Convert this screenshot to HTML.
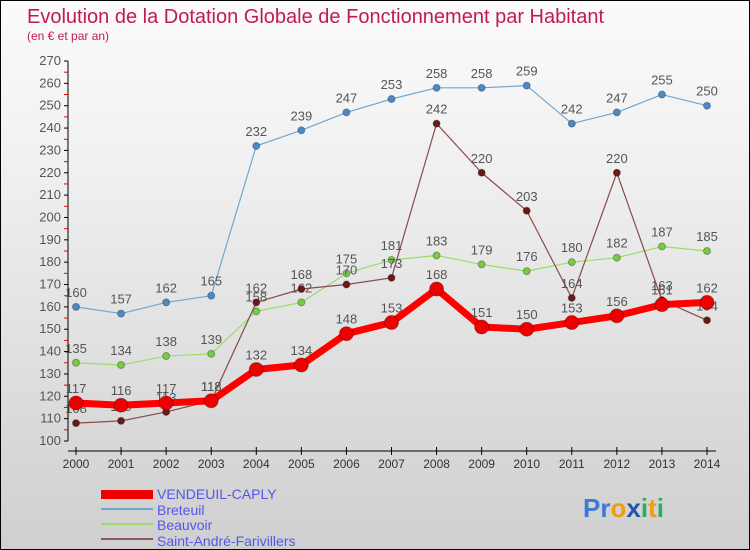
<!DOCTYPE html>
<html><head><meta charset="utf-8"><style>
body{margin:0}
#c{width:748px;height:548px;border:1px solid #000;background:linear-gradient(#fbfbfb,#f0f0f0 30%,#cfcfcf);position:relative;font-family:"Liberation Sans",sans-serif;overflow:hidden}
svg text{font-family:"Liberation Sans",sans-serif}
</style></head><body>
<div id="c">
<svg id="s" width="748" height="548">
<text x="26" y="22" font-size="20" fill="#c2185b">Evolution de la Dotation Globale de Fonctionnement par Habitant</text>
<text x="26" y="39" font-size="12" fill="#c2185b">(en € et par an)</text>
<g id="axes"></g><g id="series"></g>
<g>
<rect x="100" y="489" width="52" height="9" fill="#e00"/>
<text x="156" y="498" font-size="14" fill="#5555ee">VENDEUIL-CAPLY</text>
<line x1="100" x2="152" y1="508" y2="508" stroke="#6fa8d0" stroke-width="2"/>
<text x="156" y="514" font-size="14" fill="#5555ee">Breteuil</text>
<line x1="100" x2="152" y1="523" y2="523" stroke="#99dd66" stroke-width="2"/>
<text x="156" y="529" font-size="14" fill="#5555ee">Beauvoir</text>
<line x1="100" x2="152" y1="538" y2="538" stroke="#8b5a5a" stroke-width="2"/>
<text x="156" y="545" font-size="14" fill="#5555ee">Saint-André-Farivillers</text>
</g>
<text x="582" y="516" font-size="26" font-weight="bold"><tspan fill="#3a7bd5">Pr</tspan><tspan fill="#f39c12">o</tspan><tspan fill="#2255aa">x</tspan><tspan fill="#27ae60">i</tspan><tspan fill="#f39c12">t</tspan><tspan fill="#27ae60">i</tspan></text>
</svg>
</div>
<script>
const years=[2000,2001,2002,2003,2004,2005,2006,2007,2008,2009,2010,2011,2012,2013,2014];
const yTicks=[100,110,120,130,140,150,160,170,180,190,200,210,220,230,240,250,260,270];
const vendeuil=[117,116,117,118,132,134,148,153,168,151,150,153,156,161,162];
const breteuil=[160,157,162,165,232,239,247,253,258,258,259,242,247,255,250];
const beauvoir=[135,134,138,139,158,162,175,181,183,179,176,180,182,187,185];
const saintAndre=[108,109,113,118,162,168,170,173,242,220,203,164,220,163,154];
const NS="http://www.w3.org/2000/svg";
const X=i=>75+i*(631/14);
const Y=v=>440-(v-100)*(380/170);
function mk(tag,attrs,parent){const e=document.createElementNS(NS,tag);for(const k in attrs)e.setAttribute(k,attrs[k]);parent.appendChild(e);return e;}
const ax=document.getElementById('axes'),sg=document.getElementById('series');
let a=mk('line',{x1:67,x2:67,y1:60,y2:440,stroke:'#000'},ax);


a=mk('line',{x1:67,x2:715,y1:450,y2:450,stroke:'#000'},ax);


yTicks.forEach(v=>{
 mk('line',{x1:63,x2:67,y1:Y(v),y2:Y(v),stroke:'#000'},ax);
 if(v<270)mk('line',{x1:63,x2:67,y1:Y(v+5),y2:Y(v+5),stroke:'#e00'},ax);
 const t=mk('text',{x:60,y:Y(v)+4,'font-size':13,'text-anchor':'end',fill:'#555'},ax);
 t.textContent=v;
 
 
});
years.forEach((y,i)=>{
 mk('line',{x1:X(i),x2:X(i),y1:446,y2:454,stroke:'#000'},ax);
 const t=mk('text',{x:X(i),y:467,'font-size':12,'text-anchor':'middle',fill:'#333'},ax);
 t.textContent=y;
 
 
});
function series(data,name,color,w,r,dot){
 const g=mk('g',{},sg);
 
 
 const p=mk('polyline',{points:data.map((v,i)=>X(i)+','+Y(v)).join(' '),fill:'none',stroke:color,'stroke-width':w,'stroke-linejoin':'round'},g);
 
 
 data.forEach((v,i)=>{
  const c=mk('circle',{cx:X(i),cy:Y(v),r:r,fill:dot,stroke:'rgba(0,0,0,0.3)'},g);
  
  
  const t=mk('text',{x:X(i),y:Y(v)-10,'font-size':13,'text-anchor':'middle',fill:'#555'},g);
  t.textContent=v;
  
  
 });
}
series(breteuil,'breteuil','#6fa8d0',1.2,3.5,'#4a8ac8');
series(beauvoir,'beauvoir','#99dd66',1.2,3.5,'#77cc44');
series(saintAndre,'saint-andre','#8b4a4a',1.2,3.5,'#6b1a1a');
series(vendeuil,'vendeuil','#f00',7,7,'#e00');
</script>
</body></html>
